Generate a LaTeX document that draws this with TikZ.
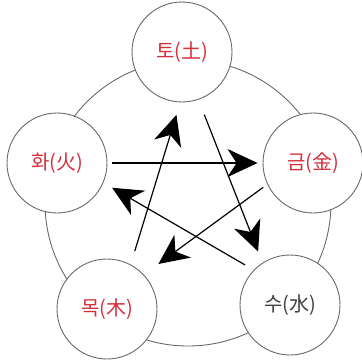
\documentclass[tikz,border=0pt]{standalone}
\usepackage{fontspec}
\newfontfamily\kofont{Noto Sans CJK KR}
\usetikzlibrary{arrows.meta}
\definecolor{elemred}{RGB}{212,48,58}
\definecolor{ringgray}{RGB}{105,105,105}

\begin{document}
\begin{tikzpicture}[x=1pt, y=-1pt,
    element/.style={circle, draw=ringgray, fill=white, line width=0.9pt, minimum size=100pt, inner sep=0pt, font=\kofont\fontsize{20}{24}\selectfont, text=elemred},
    arrow/.style={-{Stealth[length=30pt, width=28pt, inset=9pt]}, line width=1.2pt}
]
\useasboundingbox (0,0) rectangle (362,360);
\draw[ringgray, line width=0.9pt] (188,203) circle[radius=143pt];

\node[element] (to) at (182,52) {토(土)};
\node[element] (hwa) at (57,163) {화(火)};
\node[element] (geum) at (313,163) {금(金)};
\node[element] (mok) at (107,309) {목(木)};
\node[element, text=black!75] (su) at (290,305) {수(水)};

\draw[arrow, shorten <=5pt, shorten >=5pt] (hwa) -- (geum);
\draw[arrow, shorten <=10pt, shorten >=10pt] (su.136) -- (hwa.-23);
\draw[arrow, shorten <=5pt, shorten >=18pt] (geum.205) -- (mok.43);
\draw[arrow, shorten <=14pt, shorten >=13pt] (mok.62) -- (to.268);
\draw[arrow, shorten <=16pt, shorten >=12pt] (to.-71) -- (su.123);
\end{tikzpicture}
\end{document}
